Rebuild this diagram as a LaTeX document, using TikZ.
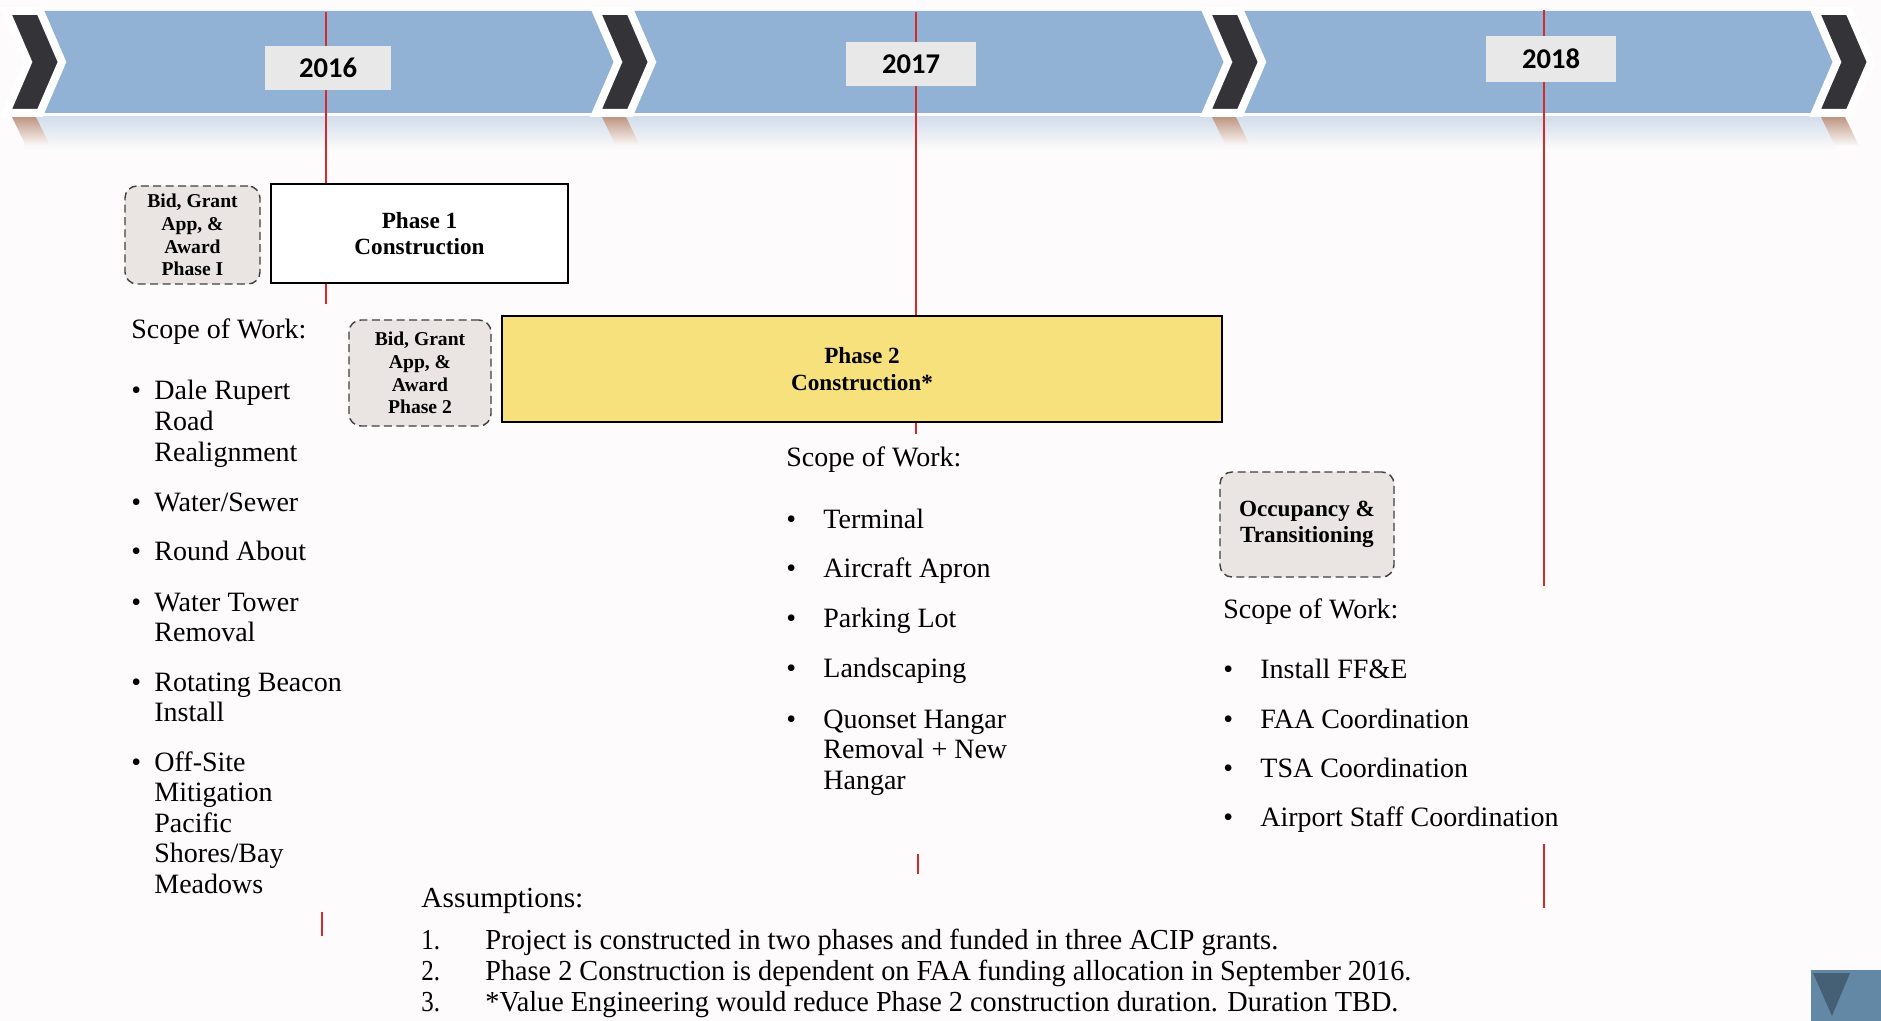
\documentclass[tikz,border=0pt]{standalone}
\usepackage{fontspec}
\usepackage{graphicx}
\setmainfont{Liberation Serif}
\newfontfamily\yearfont{Carlito}

\definecolor{paper}{RGB}{253,251,251}
\definecolor{bandblue}{RGB}{145,178,212}
\definecolor{chevdark}{RGB}{52,52,56}
\definecolor{yearbox}{RGB}{232,232,232}
\definecolor{markred}{RGB}{214,42,42}
\definecolor{bidfill}{RGB}{234,228,227}
\definecolor{phasetwo}{RGB}{246,225,125}
\definecolor{reflbrown}{RGB}{190,150,130}
\definecolor{cornerblue}{RGB}{98,136,166}

% multi-line text whose baseline is that of its first line
\newcommand{\itemlines}[1]{\begin{tabular}[t]{@{}l@{}}#1\end{tabular}}
\newcommand{\bodyfont}{\fontsize{14pt}{15.3pt}\selectfont}

\begin{document}
\begin{tikzpicture}[x=0.5pt,y=-0.5pt,
  yearlabel/.style={fill=yearbox, inner sep=0pt,
    font=\yearfont\bfseries\fontsize{14.3pt}{16pt}\selectfont},
  bidbox/.style={draw=black!75, line width=0.7pt, dash pattern=on 4pt off 2.2pt,
    rounded corners=6pt, fill=bidfill, align=center, inner sep=0pt,
    font=\bfseries\fontsize{9.8pt}{11.4pt}\selectfont},
  phasebox/.style={draw=black, line width=0.8pt, align=center, inner sep=0pt,
    font=\bfseries\fontsize{11.6pt}{13.2pt}\selectfont},
  scopehead/.style={anchor=base west, inner sep=0pt, font=\bodyfont},
  itemtext/.style={anchor=base west, inner sep=0pt, font=\bodyfont},
  bulletmark/.style={anchor=base west, inner sep=0pt, font=\bodyfont},
  marker/.style={draw=markred, line width=0.9pt},
  darkchev/.style={fill=chevdark, draw=white, line width=4pt, line join=miter},
  notes/.style={anchor=base west, inner sep=0pt, font=\fontsize{14.5pt}{16pt}\selectfont},
]
\fill[paper] (0,0) rectangle (1881,1021);
\useasboundingbox (0,0) rectangle (1881,1021);

% ---- soft reflection under the timeline band
\shade[top color=bandblue!40!paper, bottom color=paper] (24,117) rectangle (1836,150);
\foreach \a in {6,596,1206,1815}{
  \shade[top color=reflbrown, bottom color=paper]
    (\a+6,117) -- (\a+30,117) -- (\a+44,146) -- (\a+20,146) -- cycle;
}

% ---- timeline band: blue year segments
\foreach \l/\r in {20/610, 616/1220, 1226/1829}{
  \fill[bandblue] (\l,11) -- (\r,11) -- (\r+22,62) -- (\r,113) -- (\l,113) -- (\l+22,62) -- cycle;
}
% ---- dark chevrons between the segments
\foreach \a in {6,596,1206,1815}{
  \filldraw[darkchev] (\a,11) -- (\a+34,11) -- (\a+56,62) -- (\a+34,113) -- (\a,113) -- (\a+22,62) -- cycle;
}

% ---- year marker lines
\coordinate (m16a) at (326,12);  \coordinate (m16b) at (326,304);
\coordinate (m16c) at (322,912); \coordinate (m16d) at (322,936);
\coordinate (m17a) at (916,12);  \coordinate (m17b) at (916,434);
\coordinate (m17c) at (918,854); \coordinate (m17d) at (918,874);
\coordinate (m18a) at (1544,10); \coordinate (m18b) at (1544,586);
\coordinate (m18c) at (1544,844);\coordinate (m18d) at (1544,908);
\draw[marker] (m16a) -- (m16b);
\draw[marker] (m16c) -- (m16d);
\draw[marker] (m17a) -- (m17b);
\draw[marker] (m17c) -- (m17d);
\draw[marker] (m18a) -- (m18b);
\draw[marker] (m18c) -- (m18d);

% ---- year labels
\node[yearlabel, minimum width=63pt, minimum height=22pt] (y2016) at (328,68) {2016};
\node[yearlabel, minimum width=65pt, minimum height=22pt] (y2017) at (911,64) {2017};
\node[yearlabel, minimum width=65pt, minimum height=23pt] (y2018) at (1551,59) {2018};

% ---- phase boxes
\node[bidbox, minimum width=67.5pt, minimum height=49pt] (bid1) at (192.5,235)
  {Bid, Grant\\App, \&\\Award\\Phase I};
\node[phasebox, fill=white, minimum width=148.5pt, minimum height=49.5pt] (ph1) at (419.5,233.5)
  {Phase 1\\Construction};
\node[bidbox, minimum width=71pt, minimum height=53pt] (bid2) at (420,373)
  {Bid, Grant\\App, \&\\Award\\Phase 2};
\node[phasebox, fill=phasetwo, minimum width=360pt, minimum height=53pt] (ph2) at (862,369)
  {Phase 2\\Construction*};
\node[bidbox, font=\bfseries\fontsize{11.6pt}{13.2pt}\selectfont,
  minimum width=87pt, minimum height=52.5pt] (occ) at (1307,524.5)
  {Occupancy \&\\Transitioning};

% ---- scope of work, phase 1
\node[scopehead] (sw1) at (131,339) {Scope of Work:};
\foreach \y/\t [count=\i] in {
  400/{Dale Rupert\\Road\\Realignment},
  512/{Water/Sewer},
  561/{Round About},
  611/{Water Tower\\Removal},
  691/{Rotating Beacon\\Install},
  771/{Off-Site\\Mitigation\\Pacific\\Shores/Bay\\Meadows}}{
  \node[bulletmark] (b1-\i) at (131,\y) {•};
  \node[itemtext] (t1-\i) at (154,\y) {\itemlines{\t}};
}

% ---- scope of work, phase 2
\node[scopehead] (sw2) at (786,467) {Scope of Work:};
\foreach \y/\t [count=\i] in {
  529/{Terminal},
  578/{Aircraft Apron},
  628/{Parking Lot},
  677/{Landscaping},
  728/{Quonset Hangar\\Removal + New\\Hangar}}{
  \node[bulletmark] (b2-\i) at (786,\y) {•};
  \node[itemtext] (t2-\i) at (823,\y) {\itemlines{\t}};
}

% ---- scope of work, occupancy
\node[scopehead] (sw3) at (1223,618) {Scope of Work:};
\foreach \y/\t [count=\i] in {
  678/{Install FF\&E},
  728/{FAA Coordination},
  777/{TSA Coordination},
  826/{Airport Staff Coordination}}{
  \node[bulletmark] (b3-\i) at (1223,\y) {•};
  \node[itemtext] (t3-\i) at (1260,\y) {\itemlines{\t}};
}

% ---- assumptions
\node[notes] (asm) at (421,907) {\resizebox{81pt}{\height}{Assumptions:}};
\node[notes] (n1) at (421,949) {\scalebox{0.86}[1]{1.}};
\node[notes] (n2) at (421,980) {\scalebox{0.86}[1]{2.}};
\node[notes] (n3) at (421,1011) {\scalebox{0.86}[1]{3.}};
\node[notes] (a1) at (485,949)
  {\resizebox{396.5pt}{\height}{Project is constructed in two phases and funded in three ACIP grants.}};
\node[notes] (a2) at (485,980)
  {\resizebox{463pt}{\height}{Phase 2 Construction is dependent on FAA funding allocation in September 2016.}};
\node[notes] (a3) at (485,1011)
  {\resizebox{456.5pt}{\height}{*Value Engineering would reduce Phase 2 construction duration. Duration TBD.}};

% ---- corner of a neighbouring panel
\fill[cornerblue] (1811,970) rectangle (1881,1021);
\fill[cornerblue!70!black] (1813,973) -- (1850,973) -- (1832,1016) -- cycle;
\end{tikzpicture}
\end{document}
